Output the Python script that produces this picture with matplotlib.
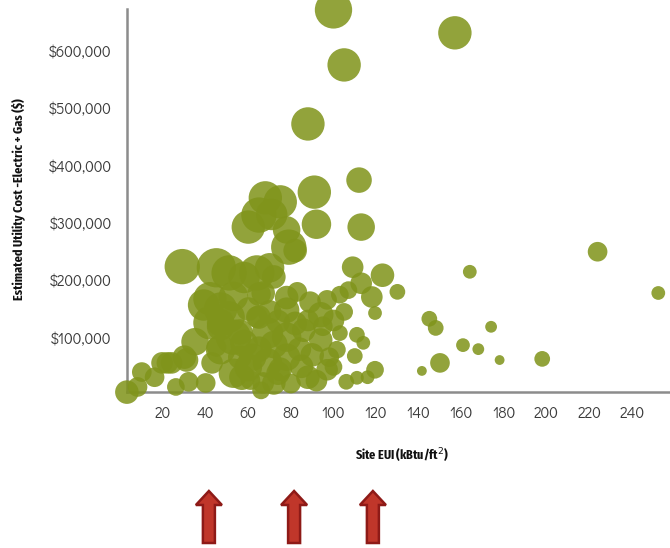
import matplotlib
matplotlib.use("Agg")
import matplotlib.pyplot as plt
from matplotlib.patches import Polygon

# ---- data: Site EUI (kBtu/ft2), cost (thousand $), bubble size ----
site_eui = [100, 105, 157, 88, 91, 112, 92, 113, 68, 75, 65, 60, 71, 78, 79, 82,
            29, 45, 51, 58, 64, 70, 72, 67, 42, 47, 53, 39, 42, 47, 65, 65, 78,
            83, 89, 97, 94, 78, 64, 51, 53, 69, 78, 86, 94, 53, 69, 72, 88, 97,
            62, 78, 61, 98, 47, 47, 35, 19.5, 24, 10, 3, 8, 16, 31, 32, 26, 40,
            43, 30, 22, 45, 56, 67, 57, 74, 109, 123, 113, 118, 130, 119.5, 107,
            103, 145, 148, 150, 141.5, 103, 111, 114, 110, 119.5, 116, 111, 106,
            100, 101.6, 224, 252.5, 164, 174, 160.8, 168, 178, 198,
            58, 65, 72, 84, 90, 85, 60, 75, 92, 80, 66, 95, 100, 105, 88, 82,
            56, 60, 70, 74]
cost_k = [672, 576, 632, 473, 354, 375, 298, 293, 344, 337, 314, 293, 315, 288, 258, 252,
          224, 222, 213, 205, 213, 222, 206, 178, 168, 150, 172, 157, 126, 119, 176, 136, 170,
          180, 162, 166, 140, 148, 136, 136, 101, 108, 101, 113, 96, 38, 56, 21, 31, 44,
          66, 66, 26, 66, 79, 126, 93, 56, 56, 40, 5, 14, 31, 61, 23, 14, 21,
          56, 66, 56, 84, 66, 21, 31, 38, 223, 209, 195, 171, 180, 143, 183,
          175, 133, 117, 56, 42, 108, 105, 91, 68, 44, 31, 30, 23,
          49, 79, 250, 178, 215, 119, 87, 80, 61, 63,
          90, 80, 88, 80, 70, 50, 48, 45, 25, 20, 8, 120, 130, 145, 130, 125,
          110, 150, 145, 128]
bubble_size = [361, 289, 289, 289, 289, 169, 225, 196, 289, 289, 324, 289, 256, 196, 324, 144,
               324, 400, 324, 256, 324, 225, 144, 144, 289, 289, 225, 256, 289, 196, 144, 144, 144,
               100, 121, 100, 169, 169, 121, 256, 324, 256, 225, 144, 144, 225, 225, 144, 144, 121,
               196, 196, 100, 100, 225, 196, 196, 121, 121, 100, 144, 100, 100, 144, 100, 81, 100,
               121, 144, 121, 100, 144, 121, 169, 144, 121, 144, 121, 121, 64, 49, 81,
               81, 64, 64, 100, 25, 64, 64, 49, 64, 81, 49, 49, 64,
               81, 81, 100, 49, 49, 36, 49, 36, 25, 64,
               196, 169, 196, 144, 144, 144, 196, 144, 121, 100, 81, 100, 121, 81, 121, 144,
               169, 144, 144, 144]

x_ticks = [20, 40, 60, 80, 100, 120, 140, 160, 180, 200, 220, 240]
y_ticks_k = [100, 200, 300, 400, 500, 600]
arrow_eui = [41.5, 81.5, 118.5]

W, H = 670, 548
fig = plt.figure(figsize=(W / 100, H / 100), dpi=100)
ax = fig.add_axes([127 / W, (H - 392) / H, 1 - 127 / W, (392 - 9) / H])

ax.scatter(site_eui, [c * 1000 for c in cost_k],
           s=[b * 2.0 for b in bubble_size], color="#80941b", alpha=0.86,
           linewidths=0, clip_on=False, zorder=3)

ax.set_xlim(3.05, 258)
ax.set_ylim(5200, 673600)

for side in ["top", "right"]:
    ax.spines[side].set_visible(False)
for side in ["left", "bottom"]:
    ax.spines[side].set_color("#8c8c8c")
    ax.spines[side].set_linewidth(1.8)
    ax.spines[side].set_zorder(2)

tick_font = dict(family=["Didact Gothic", "DejaVu Sans"], fontsize=11, color="#3a3a3a")
ax.set_xticks(x_ticks)
ax.set_xticklabels([str(t) for t in x_ticks], **tick_font)
ax.set_yticks([v * 1000 for v in y_ticks_k])
ax.set_yticklabels(["${:,}".format(v * 1000) for v in y_ticks_k], **tick_font)
ax.tick_params(axis="both", length=0)
ax.tick_params(axis="x", pad=10)
ax.tick_params(axis="y", pad=11)

label_font = dict(family=["Fira Sans Extra Condensed", "DejaVu Sans"], fontweight="bold",
                  color="#111111")
fig.text(18 / W, 1 - 199 / H, "Estimated Utility Cost -Electric + Gas ($)",
         rotation=90, ha="center", va="center", fontsize=9.5, **label_font)
fig.text(402 / W, 1 - 456 / H, "Site EUI (kBtu/ft$^{2}$)",
         ha="center", va="center", fontsize=9.5, **label_font)

# red arrows below the axis
fig.canvas.draw()
for xv in arrow_eui:
    px = ax.transData.transform((xv, 0))[0]
    top, bottom = H - 491, H - 543
    head_h, head_w, shaft_w = 14, 26, 12
    pts = [(px, top), (px + head_w / 2, top - head_h), (px + shaft_w / 2, top - head_h),
           (px + shaft_w / 2, bottom), (px - shaft_w / 2, bottom),
           (px - shaft_w / 2, top - head_h), (px - head_w / 2, top - head_h)]
    pts = [(a / W, b / H) for a, b in pts]
    fig.patches.append(Polygon(pts, closed=True, transform=fig.transFigure,
                               facecolor="#c0362a", edgecolor="#8e1a17", linewidth=1.8,
                               joinstyle="miter"))

fig.savefig("out.png", dpi=100)
